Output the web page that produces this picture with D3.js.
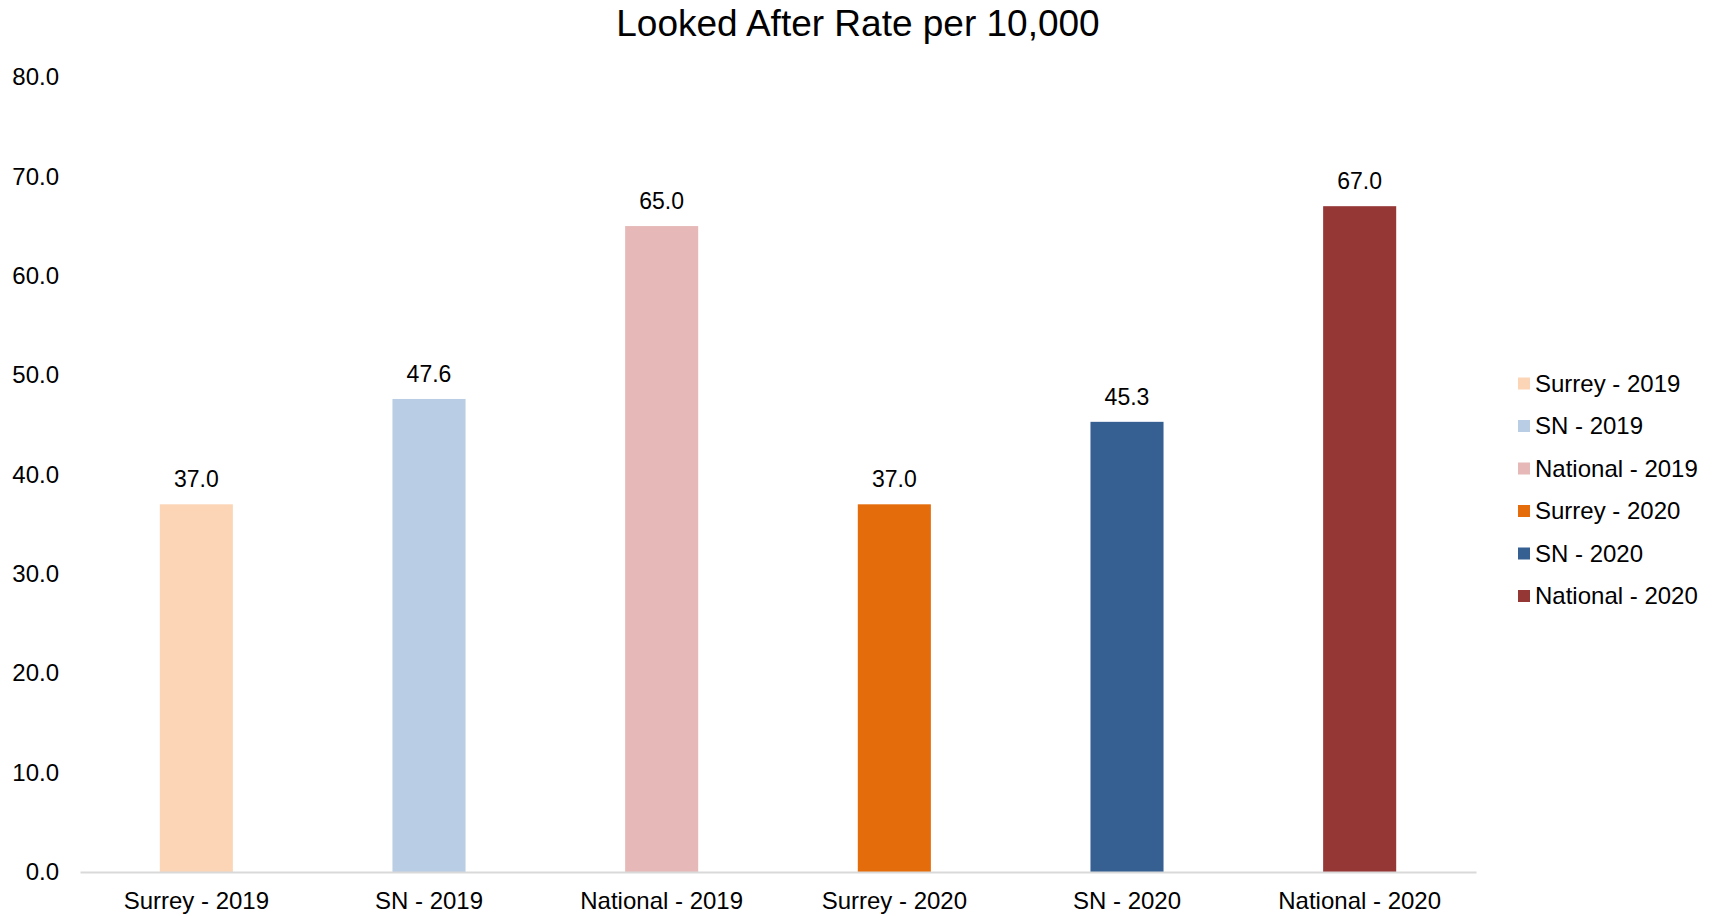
<!DOCTYPE html>
<html lang="en">
<head>
  <meta charset="UTF-8">
  <title>Looked After Rate per 10,000</title>
  <style>
    body {
      margin: 0;
      padding: 0;
      background: #fff;
      font-family: "Liberation Sans", Arial, sans-serif;
    }
    svg text { fill: #000; }
  </style>
</head>
<body>
  <svg id="chart" width="1712" height="916"></svg>

  <script src="https://d3js.org/d3.v7.min.js"></script>
  <script>
    // data
    const categories = ["Surrey - 2019", "SN - 2019", "National - 2019", "Surrey - 2020", "SN - 2020", "National - 2020"];
    const values = [37.0, 47.6, 65.0, 37.0, 45.3, 67.0];
    const colors = ["#FBD5B5", "#B9CDE5", "#E6B9B8", "#E46C0A", "#376092", "#953735"];
    const yTicks = [0, 10, 20, 30, 40, 50, 60, 70, 80];

    const svg = d3.select("#chart");

    // plot area
    const plotLeft = 80, plotRight = 1476, plotTop = 77, plotBottom = 872;

    const x = d3.scaleBand()
      .domain(categories)
      .range([plotLeft, plotRight])
      .paddingInner(0.686)
      .paddingOuter(0.343);

    const y = d3.scaleLinear()
      .domain([0, 80])
      .range([plotBottom, plotTop]);

    // title
    svg.append("text")
      .attr("x", 858)
      .attr("y", 36)
      .attr("text-anchor", "middle")
      .style("font-size", "37px")
      .text("Looked After Rate per 10,000");

    // y axis (labels only)
    const yAxis = svg.append("g")
      .attr("transform", `translate(${plotLeft - 21},0)`)
      .call(d3.axisLeft(y).tickValues(yTicks).tickFormat(d3.format(".1f")).tickSize(0).tickPadding(0));
    yAxis.select(".domain").remove();
    yAxis.selectAll("text")
      .style("font-size", "24px")
      .style("font-family", "'Liberation Sans', Arial, sans-serif")
      .attr("dy", "0.32em");

    // bars
    svg.append("g")
      .selectAll("rect")
      .data(values)
      .join("rect")
        .attr("x", (d, i) => x(categories[i]))
        .attr("y", d => y(d))
        .attr("width", x.bandwidth())
        .attr("height", d => y(0) - y(d))
        .attr("fill", (d, i) => colors[i]);

    // data labels
    svg.append("g")
      .selectAll("text")
      .data(values)
      .join("text")
        .attr("x", (d, i) => x(categories[i]) + x.bandwidth() / 2)
        .attr("y", d => y(d) - 17)
        .attr("text-anchor", "middle")
        .style("font-size", "23px")
        .text(d => d3.format(".1f")(d));

    // x axis
    const xAxis = svg.append("g")
      .attr("transform", `translate(0,${plotBottom})`)
      .call(d3.axisBottom(x).tickSize(0).tickPadding(0));
    xAxis.select(".domain")
      .attr("stroke", "#D9D9D9")
      .attr("stroke-width", 2);
    xAxis.selectAll("text")
      .attr("y", 37)
      .attr("dy", 0)
      .style("font-size", "24px")
      .style("font-family", "'Liberation Sans', Arial, sans-serif");

    // legend
    const legend = svg.append("g")
      .selectAll("g")
      .data(categories)
      .join("g")
        .attr("transform", (d, i) => `translate(1518,${383.5 + i * 42.5})`);
    legend.append("rect")
      .attr("x", 0)
      .attr("y", -6)
      .attr("width", 12)
      .attr("height", 12)
      .attr("fill", (d, i) => colors[i]);
    legend.append("text")
      .attr("x", 17)
      .attr("y", 0)
      .attr("dy", "0.35em")
      .style("font-size", "24px")
      .text(d => d);
  </script>
</body>
</html>
